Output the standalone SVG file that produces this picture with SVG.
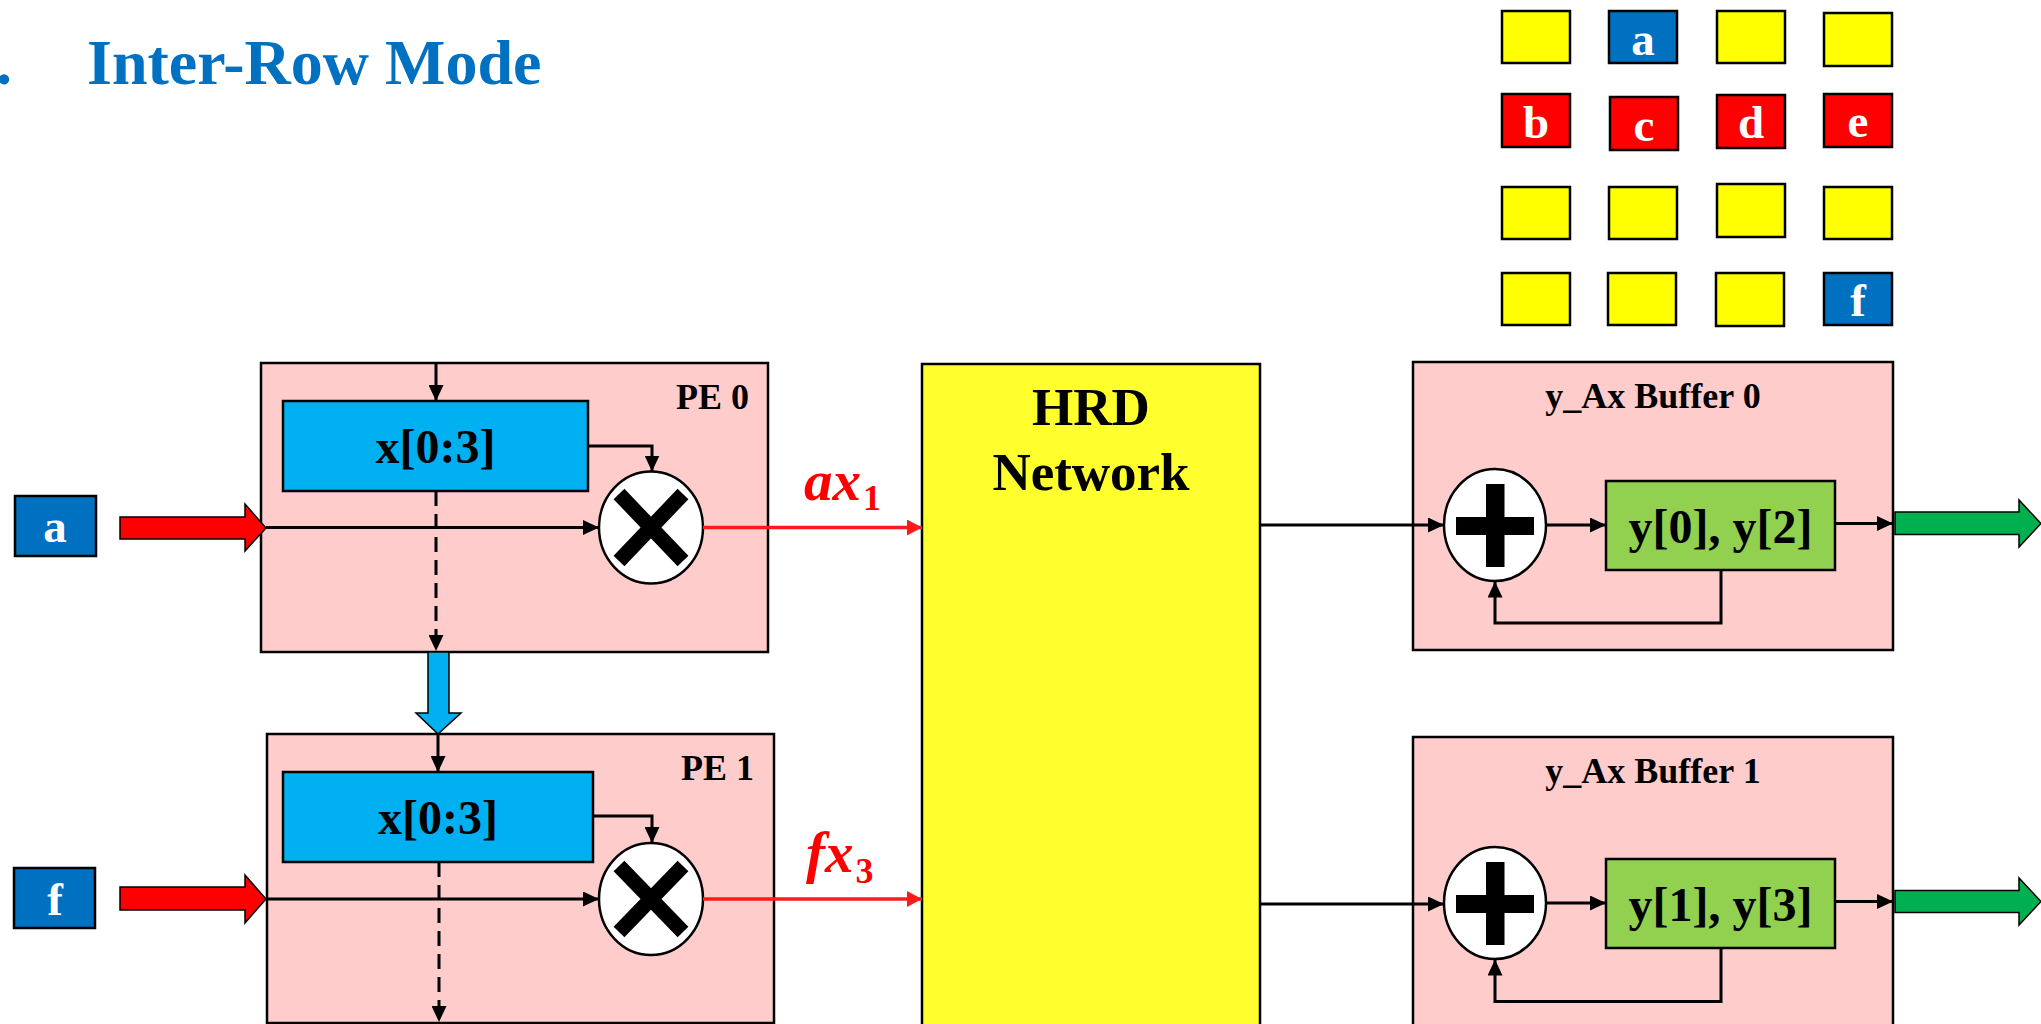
<svg xmlns="http://www.w3.org/2000/svg" width="2041" height="1024" viewBox="0 0 2041 1024">
  <style>
    text { font-family: "Liberation Serif", "Times New Roman", serif; font-weight: bold; }
    .title { fill: #0070C0; font-size: 64px; }
    .cell { stroke: #000; stroke-width: 2.5; }
    .yel { fill: #FFFF00; }
    .blu { fill: #0070C0; }
    .red { fill: #FF0000; }
    .cellt { fill: #fff; font-size: 47px; text-anchor: middle; }
    .pe { fill: #FFCCCC; stroke: #000; stroke-width: 2.5; }
    .reg { fill: #00B0F0; stroke: #000; stroke-width: 2.5; }
    .acc { fill: #92D050; stroke: #000; stroke-width: 2.5; }
    .op { fill: #fff; stroke: #000; stroke-width: 2.5; }
    .hrd { fill: #FFFF2D; stroke: #000; stroke-width: 2.5; }
    .lbl { fill: #000; font-size: 36px; }
    .big { fill: #000; font-size: 48px; text-anchor: middle; }
    .net { fill: #000; font-size: 53px; text-anchor: middle; }
    .wire { fill: none; stroke: #000; stroke-width: 3; }
    .dash { fill: none; stroke: #000; stroke-width: 3; stroke-dasharray: 15 8; }
    .rwire { fill: none; stroke: #FF1A1A; stroke-width: 3.5; }
    .math { fill: #FF0000; font-size: 57px; font-style: italic; }
    .sub { font-size: 36px; font-style: normal; }
    .blk { stroke: #000; stroke-width: 1.5; }
  </style>
  <defs>
    <marker id="ah" markerUnits="userSpaceOnUse" markerWidth="17" markerHeight="15" refX="16" refY="7.5" orient="auto">
      <path d="M0,0 L16,7.5 L0,15 z" fill="#000"/>
    </marker>
    <marker id="ahr" markerUnits="userSpaceOnUse" markerWidth="16" markerHeight="16" refX="15" refY="8" orient="auto">
      <path d="M0,0 L15,8 L0,16 z" fill="#FF1A1A"/>
    </marker>
  </defs>

  <!-- heading -->
  <text class="title" x="-4" y="84">.</text>
  <text class="title" x="87" y="84">Inter-Row Mode</text>

  <!-- 4x4 sparse matrix pattern -->
  <g id="matrix">
    <rect class="cell yel" x="1502" y="11" width="68" height="52"/>
    <rect class="cell blu" x="1609" y="11" width="68" height="52"/>
    <rect class="cell yel" x="1717" y="11" width="68" height="52"/>
    <rect class="cell yel" x="1824" y="13" width="68" height="53"/>
    <text class="cellt" x="1643" y="55">a</text>

    <rect class="cell red" x="1502" y="94" width="68" height="53"/>
    <rect class="cell red" x="1610" y="97" width="68" height="53"/>
    <rect class="cell red" x="1717" y="95" width="68" height="53"/>
    <rect class="cell red" x="1824" y="94" width="68" height="53"/>
    <text class="cellt" x="1536" y="138">b</text>
    <text class="cellt" x="1644" y="141">c</text>
    <text class="cellt" x="1751" y="138">d</text>
    <text class="cellt" x="1858" y="137">e</text>

    <rect class="cell yel" x="1502" y="187" width="68" height="52"/>
    <rect class="cell yel" x="1609" y="187" width="68" height="52"/>
    <rect class="cell yel" x="1717" y="184" width="68" height="53"/>
    <rect class="cell yel" x="1824" y="187" width="68" height="52"/>

    <rect class="cell yel" x="1502" y="273" width="68" height="52"/>
    <rect class="cell yel" x="1608" y="273" width="68" height="52"/>
    <rect class="cell yel" x="1716" y="273" width="68" height="53"/>
    <rect class="cell blu" x="1824" y="273" width="68" height="52"/>
    <text class="cellt" x="1858" y="316">f</text>
  </g>

  <!-- input elements -->
  <g id="in-a">
    <rect class="cell blu" x="15" y="496" width="81" height="60"/>
    <text class="cellt" x="55" y="542">a</text>
  </g>
  <g id="in-f">
    <rect class="cell blu" x="14" y="868" width="81" height="60"/>
    <text class="cellt" x="55" y="915">f</text>
  </g>

  <!-- processing element 0 -->
  <g id="pe0">
    <rect class="pe" x="261" y="363" width="507" height="289"/>
    <text class="lbl" x="749" y="409" text-anchor="end">PE 0</text>
    <rect class="reg" x="283" y="401" width="305" height="90"/>
    <text class="big" x="435.5" y="463">x[0:3]</text>
    <ellipse class="op" cx="651" cy="527.5" rx="52" ry="56"/>
    <path d="M619,494 L683,561 M683,494 L619,561" stroke="#000" stroke-width="15"/>
  </g>

  <!-- processing element 1 -->
  <g id="pe1">
    <rect class="pe" x="267" y="734" width="507" height="289"/>
    <text class="lbl" x="754" y="780" text-anchor="end">PE 1</text>
    <rect class="reg" x="283" y="772" width="310" height="90"/>
    <text class="big" x="438" y="834">x[0:3]</text>
    <ellipse class="op" cx="651" cy="899" rx="52" ry="56"/>
    <path d="M619,866 L683,932 M683,866 L619,932" stroke="#000" stroke-width="15"/>
  </g>

  <!-- reduction network -->
  <g id="hrd">
    <rect class="hrd" x="922" y="364" width="338" height="680"/>
    <text class="net" x="1091" y="425">HRD</text>
    <text class="net" x="1091" y="490">Network</text>
  </g>

  <!-- accumulation buffer 0 -->
  <g id="buf0">
    <rect class="pe" x="1413" y="362" width="480" height="288"/>
    <text class="lbl" x="1653" y="408" text-anchor="middle" font-size="37">y_Ax Buffer 0</text>
    <ellipse class="op" cx="1495" cy="525" rx="51" ry="56"/>
    <rect x="1486" y="484" width="18.5" height="83" fill="#000"/>
    <rect x="1456" y="517" width="78" height="18" fill="#000"/>
    <rect class="acc" x="1606" y="481" width="229" height="89"/>
    <text class="big" x="1720.5" y="543" font-size="47">y[0], y[2]</text>
  </g>

  <!-- accumulation buffer 1 -->
  <g id="buf1">
    <rect class="pe" x="1413" y="737" width="480" height="310"/>
    <text class="lbl" x="1653" y="783" text-anchor="middle" font-size="37">y_Ax Buffer 1</text>
    <ellipse class="op" cx="1495" cy="903" rx="51" ry="56"/>
    <rect x="1486" y="862" width="18.5" height="83" fill="#000"/>
    <rect x="1456" y="895" width="78" height="18" fill="#000"/>
    <rect class="acc" x="1606" y="859" width="229" height="89"/>
    <text class="big" x="1720.5" y="921" font-size="47">y[1], y[3]</text>
  </g>

  <!-- connectors -->
  <g id="connectors">
    <!-- operand feeds -->
    <polygon class="red blk" points="120,517 245,517 245,504 266,528 245,551 245,539 120,539"/>
    <polygon class="red blk" points="120,887 245,887 245,875 266,899 245,923 245,910 120,910"/>

    <!-- PE 0 internals -->
    <line class="wire" x1="436" y1="363" x2="436" y2="401" marker-end="url(#ah)"/>
    <polyline class="wire" points="588,446 652,446 652,471.5" marker-end="url(#ah)"/>
    <line class="wire" x1="266" y1="527.5" x2="599" y2="527.5" marker-end="url(#ah)"/>
    <line class="dash" x1="436" y1="491" x2="436" y2="651" marker-end="url(#ah)"/>

    <!-- vector forwarding PE 0 to PE 1 -->
    <polygon fill="#00B0F0" class="blk" points="428,652 449,652 449,713 461,713 438,734 416,713 428,713"/>

    <!-- PE 1 internals -->
    <line class="wire" x1="438" y1="734" x2="438" y2="772" marker-end="url(#ah)"/>
    <polyline class="wire" points="593,816 652,816 652,843" marker-end="url(#ah)"/>
    <line class="wire" x1="267" y1="899" x2="599" y2="899" marker-end="url(#ah)"/>
    <line class="dash" x1="439" y1="862" x2="439" y2="1022" marker-end="url(#ah)"/>

    <!-- products into the network -->
    <line class="rwire" x1="703" y1="527.5" x2="922" y2="527.5" marker-end="url(#ahr)"/>
    <line class="rwire" x1="703" y1="899" x2="922" y2="899" marker-end="url(#ahr)"/>
    <text class="math" x="804" y="500">ax<tspan class="sub" dx="2" dy="10">1</tspan></text>
    <text class="math" x="806" y="872">fx<tspan class="sub" dx="2" dy="11">3</tspan></text>

    <!-- network outputs to buffers -->
    <line class="wire" x1="1260" y1="525" x2="1444" y2="525" marker-end="url(#ah)"/>
    <line class="wire" x1="1260" y1="904" x2="1444" y2="904" marker-end="url(#ah)"/>

    <!-- buffer 0 internals -->
    <line class="wire" x1="1546" y1="525" x2="1606" y2="525" marker-end="url(#ah)"/>
    <line class="wire" x1="1835" y1="523.5" x2="1893" y2="523.5" marker-end="url(#ah)"/>
    <polyline class="wire" stroke-width="3.5" points="1721,570 1721,623 1495,623 1495,581.5" marker-end="url(#ah)"/>
    <polygon fill="#00B050" class="blk" points="1895,512 2019,512 2019,500 2041,523.5 2019,547 2019,534.5 1895,534.5"/>

    <!-- buffer 1 internals -->
    <line class="wire" x1="1546" y1="903" x2="1606" y2="903" marker-end="url(#ah)"/>
    <line class="wire" x1="1835" y1="901.5" x2="1893" y2="901.5" marker-end="url(#ah)"/>
    <polyline class="wire" stroke-width="3.5" points="1721,948 1721,1001.5 1495,1001.5 1495,959.5" marker-end="url(#ah)"/>
    <polygon fill="#00B050" class="blk" points="1895,890.5 2019,890.5 2019,878 2041,901.5 2019,925 2019,912.5 1895,912.5"/>
  </g>
</svg>
